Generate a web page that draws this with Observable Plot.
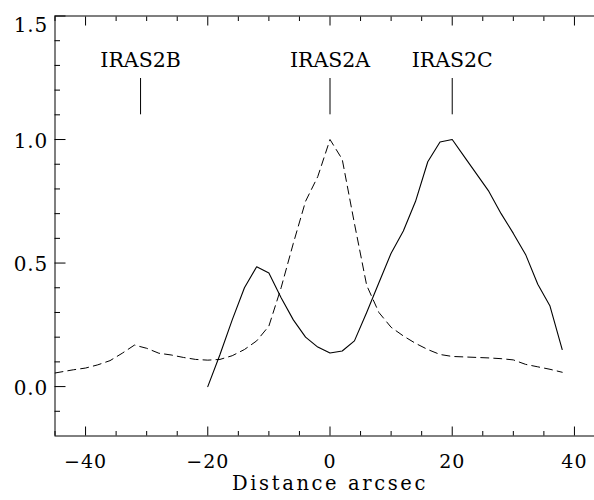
<!DOCTYPE html>
<html><head><meta charset="utf-8">
<script src="https://cdn.jsdelivr.net/npm/d3@7"></script>
<script src="https://cdn.jsdelivr.net/npm/@observablehq/plot@0.6"></script>
<style>
html,body{margin:0;padding:0;background:#fff;overflow:hidden;}
#chart svg{display:block;max-width:none;}
</style></head><body><div id="chart"></div>
<script>
// Solid profile
const solidX = [-20,-18,-16,-14,-12,-10,-8,-6,-4,-2,0,2,4,6,8,10,12,14,16,18,20,22,24,26,28,30,32,34,36,38];
const solidY = [0.0,0.13,0.27,0.40,0.485,0.46,0.36,0.27,0.20,0.16,0.136,0.144,0.185,0.30,0.42,0.54,0.63,0.75,0.91,0.99,1.0,0.93,0.86,0.79,0.70,0.62,0.535,0.414,0.326,0.15];
// Dashed profile
const dashedX = [-45,-42,-40,-38,-36,-34,-32,-30,-28,-26,-24,-22,-20,-18,-16,-14,-12,-10,-8,-6,-4,-2,0,2,4,6,8,10,12,14,16,18,20,22,24,26,28,30,32,34,36,38];
const dashedY = [0.055,0.068,0.075,0.088,0.105,0.135,0.168,0.155,0.135,0.128,0.118,0.11,0.107,0.11,0.125,0.15,0.185,0.245,0.40,0.58,0.75,0.85,1.0,0.92,0.66,0.41,0.30,0.24,0.205,0.175,0.15,0.13,0.122,0.12,0.118,0.116,0.113,0.108,0.09,0.08,0.07,0.058];
// Source markers
const sourceNames = ["IRAS2B","IRAS2A","IRAS2C"];
const sourceOffsets = [-31, 0, 20];
// Ticks
const xMajorTicks = [-40,-20,0,20,40];
const xMinorTicks = [-45,-35,-30,-25,-15,-10,-5,5,10,15,25,30,35,45];
const yMajorTicks = [0.0,0.5,1.0,1.5];
const yMinorTicks = [-0.1,0.1,0.2,0.3,0.4,0.6,0.7,0.8,0.9,1.1,1.2,1.3,1.4];
const xTitle = "Distance arcsec";

const solid = solidX.map((x,i)=>({x, y: solidY[i]}));
const dashed = dashedX.map((x,i)=>({x, y: dashedY[i]}));
const sources = sourceNames.map((name,i)=>({name, offset: sourceOffsets[i]}));

const font = "'DejaVu Serif', 'Liberation Serif', serif";
const fmt = d3.format(".1f");
const chart = Plot.plot({
  width: 606, height: 500,
  marginLeft: 54.5, marginRight: 1.5, marginTop: 15.5, marginBottom: 64.5,
  x: {domain: [-45, 45]},
  y: {domain: [-0.2, 1.5]},
  style: {fontFamily: font, fontSize: "18px", color: "black", background: "white", maxWidth: "none", overflow: "visible"},
  marks: [
    Plot.frame({stroke: "black"}),
    Plot.axisX(xMinorTicks, {anchor: "bottom", tickSize: -4.5, fill: "none", label: null}),
    Plot.axisX(xMajorTicks, {anchor: "bottom", tickSize: -9, fill: "none", label: null}),
    Plot.axisX(xMinorTicks, {anchor: "top", tickSize: -4.5, fill: "none", label: null}),
    Plot.axisX(xMajorTicks, {anchor: "top", tickSize: -9, fill: "none", label: null}),
    Plot.axisX(xMajorTicks, {anchor: "bottom", tickSize: 0, tickPadding: 18, label: null, fontSize: 19}),
    Plot.axisY(yMinorTicks, {anchor: "left", tickSize: -5.5, fill: "none", label: null}),
    Plot.axisY(yMajorTicks, {anchor: "left", tickSize: -11, fill: "none", label: null}),
    Plot.axisY(yMinorTicks, {anchor: "right", tickSize: -5.5, fill: "none", label: null}),
    Plot.axisY(yMajorTicks, {anchor: "right", tickSize: -11, fill: "none", label: null}),
    Plot.axisY(yMajorTicks.slice(0,3), {anchor: "left", tickSize: 0, tickPadding: 7, dy: 2, tickFormat: fmt, label: null, fontSize: 20}),
    Plot.axisY(yMajorTicks.slice(3), {anchor: "left", tickSize: 0, tickPadding: 7, dy: 10, tickFormat: fmt, label: null, fontSize: 20}),
    Plot.text([xTitle], {text: d => d, frameAnchor: "bottom", lineAnchor: "middle", dy: 48, fontSize: 19.5}),
    Plot.line(dashed, {x: "x", y: "y", stroke: "black", strokeWidth: 1, strokeDasharray: "8,5", clip: true}),
    Plot.line(solid, {x: "x", y: "y", stroke: "black", strokeWidth: 1.1}),
    Plot.ruleX(sources, {x: "offset", y1: 1.10, y2: 1.247, stroke: "black"}),
    Plot.text(sources, {x: "offset", text: "name", frameAnchor: "top", lineAnchor: "middle", dy: 44, fontSize: 20.5})
  ]
});
// letter spacing to match the wide-set reference type
d3.select(chart).selectAll("text").each(function() {
  const t = this.textContent;
  if (t === xTitle) d3.select(this).style("letter-spacing", "2.6px");
  else if (/^[−\-]?\d+$/.test(t)) d3.select(this).style("letter-spacing", "1px");
  else if (/^\d\.\d$/.test(t)) d3.select(this).style("letter-spacing", "0.8px");
});
document.getElementById("chart").appendChild(chart);
</script></body></html>
